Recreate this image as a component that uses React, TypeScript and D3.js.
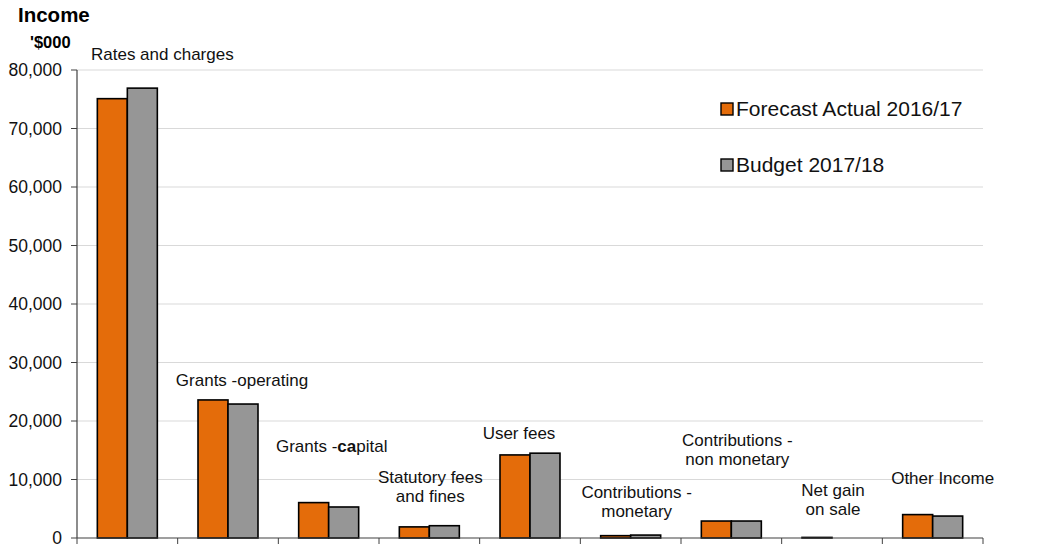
import React from "react";
import * as d3 from "d3";

const categories = [
  "Rates and charges",
  "Grants -operating",
  "Grants -capital",
  "Statutory fees and fines",
  "User fees",
  "Contributions - monetary",
  "Contributions - non monetary",
  "Net gain on sale",
  "Other Income",
];
const forecast = [75100, 23600, 6050, 1900, 14200, 400, 2900, 100, 4000];
const budget = [76900, 22900, 5300, 2100, 14500, 500, 2900, 0, 3750];
const seriesNames = ["Forecast Actual 2016/17", "Budget 2017/18"];
const yTicks = [0, 10000, 20000, 30000, 40000, 50000, 60000, 70000, 80000];

// annotation label lines (text)
const labelLines: (string | { t: string; b?: boolean }[])[][] = [
  [["Rates and charges"]],
  [["Grants -operating"]],
  [[{ t: "Grants -" }, { t: "ca", b: true }, { t: "pital" }]],
  [["Statutory fees"], ["and fines"]],
  [["User fees"]],
  [["Contributions -"], ["monetary"]],
  [["Contributions -"], ["non monetary"]],
  [["Net gain"], ["on sale"]],
  [["Other Income"]],
];
// layout: label center dx from band center, and baseline of first line (px)
const labelLayout = [
  { dx: 35, y: 60 },
  { dx: 14, y: 386 },
  { dx: 3, y: 452 },
  { dx: 1, y: 483 },
  { dx: -11, y: 439 },
  { dx: 6, y: 498 },
  { dx: 6, y: 446 },
  { dx: 1, y: 496 },
  { dx: 10, y: 484 },
];

const colors = ["#E46C0A", "#969696"];

export default function App() {
  const W = 1040, H = 555;
  const left = 77, right = 983, top = 70, bottom = 538;
  const x = d3.scaleBand<string>().domain(categories).range([left, right]).padding(0);
  const y = d3.scaleLinear().domain([0, 80000]).range([bottom, top]);
  const bw = x.bandwidth() * 0.298;
  const fmt = d3.format(",");
  const font = "'Liberation Sans', Arial, sans-serif";

  return (
    <svg width={W} height={H} style={{ position: "absolute", left: 0, top: 0, background: "#fff" }} fontFamily={font}>
      <text x={18} y={22} fontSize={20.5} fontWeight="bold" fill="#000">Income</text>
      <text x={30} y={48} fontSize={16.5} fontWeight="bold" fill="#000">'$000</text>

      {yTicks.map((t) => (
        <g key={t}>
          {t > 0 && <line x1={left} x2={right} y1={y(t)} y2={y(t)} stroke="#d9d9d9" strokeWidth={1} />}
          <line x1={left - 6} x2={left} y1={y(t)} y2={y(t)} stroke="#404040" strokeWidth={1} />
          <text x={left - 15} y={y(t)} dy="0.36em" textAnchor="end" fontSize={17.5} fill="#111">{fmt(t)}</text>
        </g>
      ))}

      {categories.map((c, i) => {
        const cx = (x(c) as number) + x.bandwidth() / 2;
        return (
          <g key={c}>
            <rect x={cx - bw} y={y(forecast[i])} width={bw} height={bottom - y(forecast[i])} fill={colors[0]} stroke="#000" strokeWidth={1.6} />
            <rect x={cx} y={y(budget[i])} width={bw} height={bottom - y(budget[i])} fill={colors[1]} stroke="#000" strokeWidth={1.6} />
          </g>
        );
      })}

      <line x1={left} x2={left} y1={top} y2={bottom} stroke="#404040" strokeWidth={1.2} />
      <line x1={left} x2={right} y1={bottom} y2={bottom} stroke="#404040" strokeWidth={1.2} />
      {[...categories.map((c) => x(c) as number), right].map((v, i) => (
        <line key={i} x1={v} x2={v} y1={bottom} y2={bottom + 6} stroke="#404040" strokeWidth={1} />
      ))}

      {categories.map((c, i) => {
        const cx = (x(c) as number) + x.bandwidth() / 2 + labelLayout[i].dx;
        return (
          <text key={c} textAnchor="middle" fontSize={17} fill="#111">
            {labelLines[i].map((line, j) => (
              <tspan key={j} x={cx} y={labelLayout[i].y + j * 19}>
                {(line as any[]).map((seg, k) =>
                  typeof seg === "string" ? seg : (
                    <tspan key={k} fontWeight={seg.b ? "bold" : "normal"}>{seg.t}</tspan>
                  )
                )}
              </tspan>
            ))}
          </text>
        );
      })}

      {seriesNames.map((s, i) => (
        <g key={s} transform={`translate(721, ${103 + i * 56})`}>
          <rect x={0} y={0} width={12} height={12} fill={colors[i]} stroke="#000" strokeWidth={1.4} />
          <text x={15} y={13} fontSize={21} fill="#111">{s}</text>
        </g>
      ))}
    </svg>
  );
}
